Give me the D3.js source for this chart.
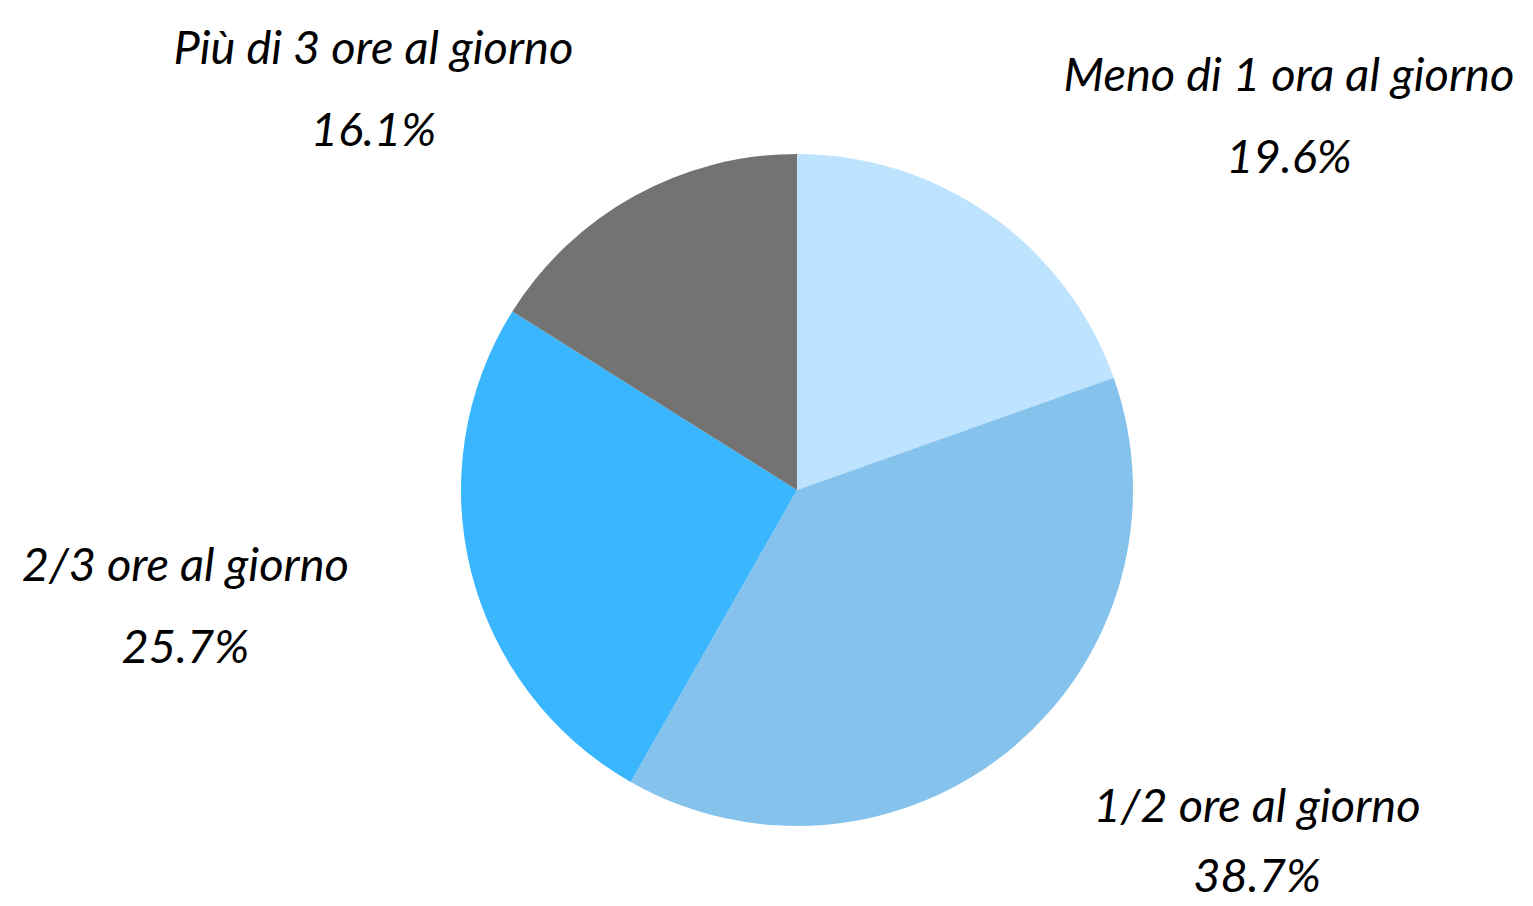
<!DOCTYPE html>
<html>
<head>
<meta charset="utf-8">
<script src="https://cdn.jsdelivr.net/npm/d3@7"></script>
<style>
  html, body { margin: 0; padding: 0; background: #fff; }
  svg { display: block; }
  .label text {
    font-family: "Lato", sans-serif;
    font-style: italic;
    font-size: 47px;
    fill: #000;
  }
</style>
</head>
<body>
<svg id="chart"></svg>
<script>
const WIDTH  = 1533;
const HEIGHT = 906;
const CX = 797;
const CY = 490;
const RADIUS = 336;
const LABEL_RADIUS = 462;

// slices, clockwise from 12 o'clock
const categories = ['Meno di 1 ora al giorno', '1/2 ore al giorno', '2/3 ore al giorno', 'Più di 3 ore al giorno'];
const shares     = [19.6, 38.7, 25.7, 16.1];
const colors     = ['#bee3fe', '#85c3ed', '#3ab6fe', '#737373'];

const data = categories.map((name, i) => ({ name, value: shares[i], color: colors[i] }));

const svg = d3.select('#chart')
  .attr('width', WIDTH)
  .attr('height', HEIGHT);

const group = svg.append('g')
  .attr('transform', `translate(${CX},${CY})`);

const pie = d3.pie()
  .sort(null)
  .value(d => d.value);

const arc = d3.arc()
  .innerRadius(0)
  .outerRadius(RADIUS);

const arcs = pie(data);

group.selectAll('.slice')
  .data(arcs)
  .enter().append('path')
    .attr('class', 'slice')
    .attr('d', arc)
    .attr('fill', d => d.data.color);

const labels = group.selectAll('.label')
  .data(arcs)
  .enter().append('g')
    .attr('class', 'label');

// label block hugs the slice's mid-angle point, name on top, share below
labels.each(function (d) {
  const g = d3.select(this);
  const mid = (d.startAngle + d.endAngle) / 2;
  const ax = Math.sin(mid) * LABEL_RADIUS;
  const ay = -Math.cos(mid) * LABEL_RADIUS;
  const side = ax >= 0 ? 1 : -1;

  const title = g.append('text')
    .attr('y', ay - 22)
    .attr('text-anchor', 'middle')
    .text(d.data.name);
  const w = title.node().getComputedTextLength();
  const x = ax + side * w / 2;
  title.attr('x', x);

  g.append('text')
    .attr('x', x)
    .attr('y', Math.min(ay + 60, HEIGHT - CY - 14))
    .attr('text-anchor', 'middle')
    .text(`${d.data.value.toFixed(1)}%`);
});
</script>
</body>
</html>
